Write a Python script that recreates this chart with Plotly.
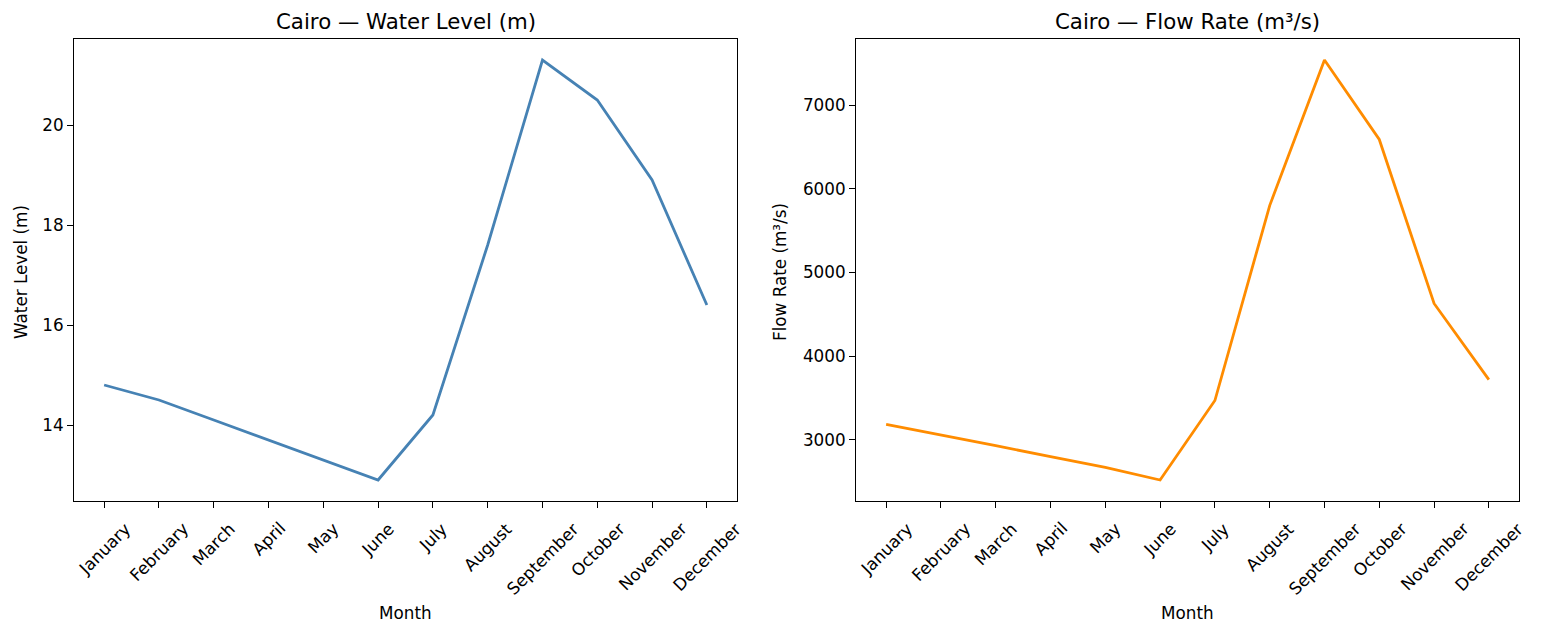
import plotly.graph_objects as go

months = ["January", "February", "March", "April", "May", "June", "July",
          "August", "September", "October", "November", "December"]
water_level = [14.8, 14.5, 14.1, 13.7, 13.3, 12.9, 14.2, 17.6, 21.3, 20.5, 18.9, 16.4]
flow_rate = [3185, 3060, 2930, 2800, 2670, 2520, 3470, 5800, 7540, 6590, 4630, 3720]

W, H = 1541, 636
FONT = "DejaVu Sans"
TICK = 16.8
TITLE = 21.3

def px_x(p):
    return p / W

def px_y(p):
    return 1 - p / H

left_dom = [px_x(74), px_x(737)]
right_dom = [px_x(856), px_x(1519)]
y_dom = [px_y(501), px_y(39)]

fig = go.Figure()
fig.add_trace(go.Scatter(x=months, y=water_level, mode="lines",
                         line=dict(color="#4682B4", width=2.8),
                         xaxis="x", yaxis="y", showlegend=False))
fig.add_trace(go.Scatter(x=months, y=flow_rate, mode="lines",
                         line=dict(color="#FF8C00", width=2.8),
                         xaxis="x2", yaxis="y2", showlegend=False))

def pad_range(vals):
    lo, hi = min(vals), max(vals)
    m = (hi - lo) * 0.05
    return [lo - m, hi + m]

axis_common = dict(showline=True, mirror=True, linecolor="black", linewidth=1,
                   ticks="outside", ticklen=6, tickwidth=1, tickcolor="black",
                   showgrid=False, zeroline=False,
                   tickfont=dict(family=FONT, size=TICK, color="black"))

fig.update_layout(
    width=W, height=H,
    margin=dict(l=0, r=0, t=0, b=0),
    paper_bgcolor="white", plot_bgcolor="white",
    font=dict(family=FONT, color="black"),
    xaxis=dict(domain=left_dom, anchor="y", type="category",
               range=[-0.55, len(months) - 1 + 0.55], showticklabels=False, **axis_common),
    yaxis=dict(domain=y_dom, anchor="x", range=pad_range(water_level),
               tickvals=[14, 16, 18, 20], **axis_common),
    xaxis2=dict(domain=right_dom, anchor="y2", type="category",
                range=[-0.55, len(months) - 1 + 0.55], showticklabels=False, **axis_common),
    yaxis2=dict(domain=y_dom, anchor="x2", range=pad_range(flow_rate),
                tickvals=[3000, 4000, 5000, 6000, 7000], **axis_common),
)

annotations = []
for xr in ["x", "x2"]:
    for m in months:
        annotations.append(dict(x=m, xref=xr, y=px_y(516), yref="paper",
                                text=m, showarrow=False, textangle=-45,
                                xanchor="center", yanchor="top",
                                font=dict(family=FONT, size=TICK, color="black")))

titles = [("Cairo — Water Level (m)", left_dom), ("Cairo — Flow Rate (m³/s)", right_dom)]
for t, dom in titles:
    cx = (dom[0] + dom[1]) / 2
    annotations.append(dict(x=cx, xref="paper", y=px_y(22), yref="paper", text=t,
                            showarrow=False, xanchor="center", yanchor="middle",
                            font=dict(family=FONT, size=TITLE, color="black")))
    annotations.append(dict(x=cx, xref="paper", y=px_y(613), yref="paper", text="Month",
                            showarrow=False, xanchor="center", yanchor="middle",
                            font=dict(family=FONT, size=TICK, color="black")))

annotations.append(dict(x=px_x(21), xref="paper", y=px_y(272), yref="paper",
                        text="Water Level (m)", showarrow=False, textangle=-90,
                        xanchor="center", yanchor="middle",
                        font=dict(family=FONT, size=TICK, color="black")))
annotations.append(dict(x=px_x(780), xref="paper", y=px_y(272), yref="paper",
                        text="Flow Rate (m³/s)", showarrow=False, textangle=-90,
                        xanchor="center", yanchor="middle",
                        font=dict(family=FONT, size=TICK, color="black")))

fig.update_layout(annotations=annotations)
fig.write_html("out.html")
